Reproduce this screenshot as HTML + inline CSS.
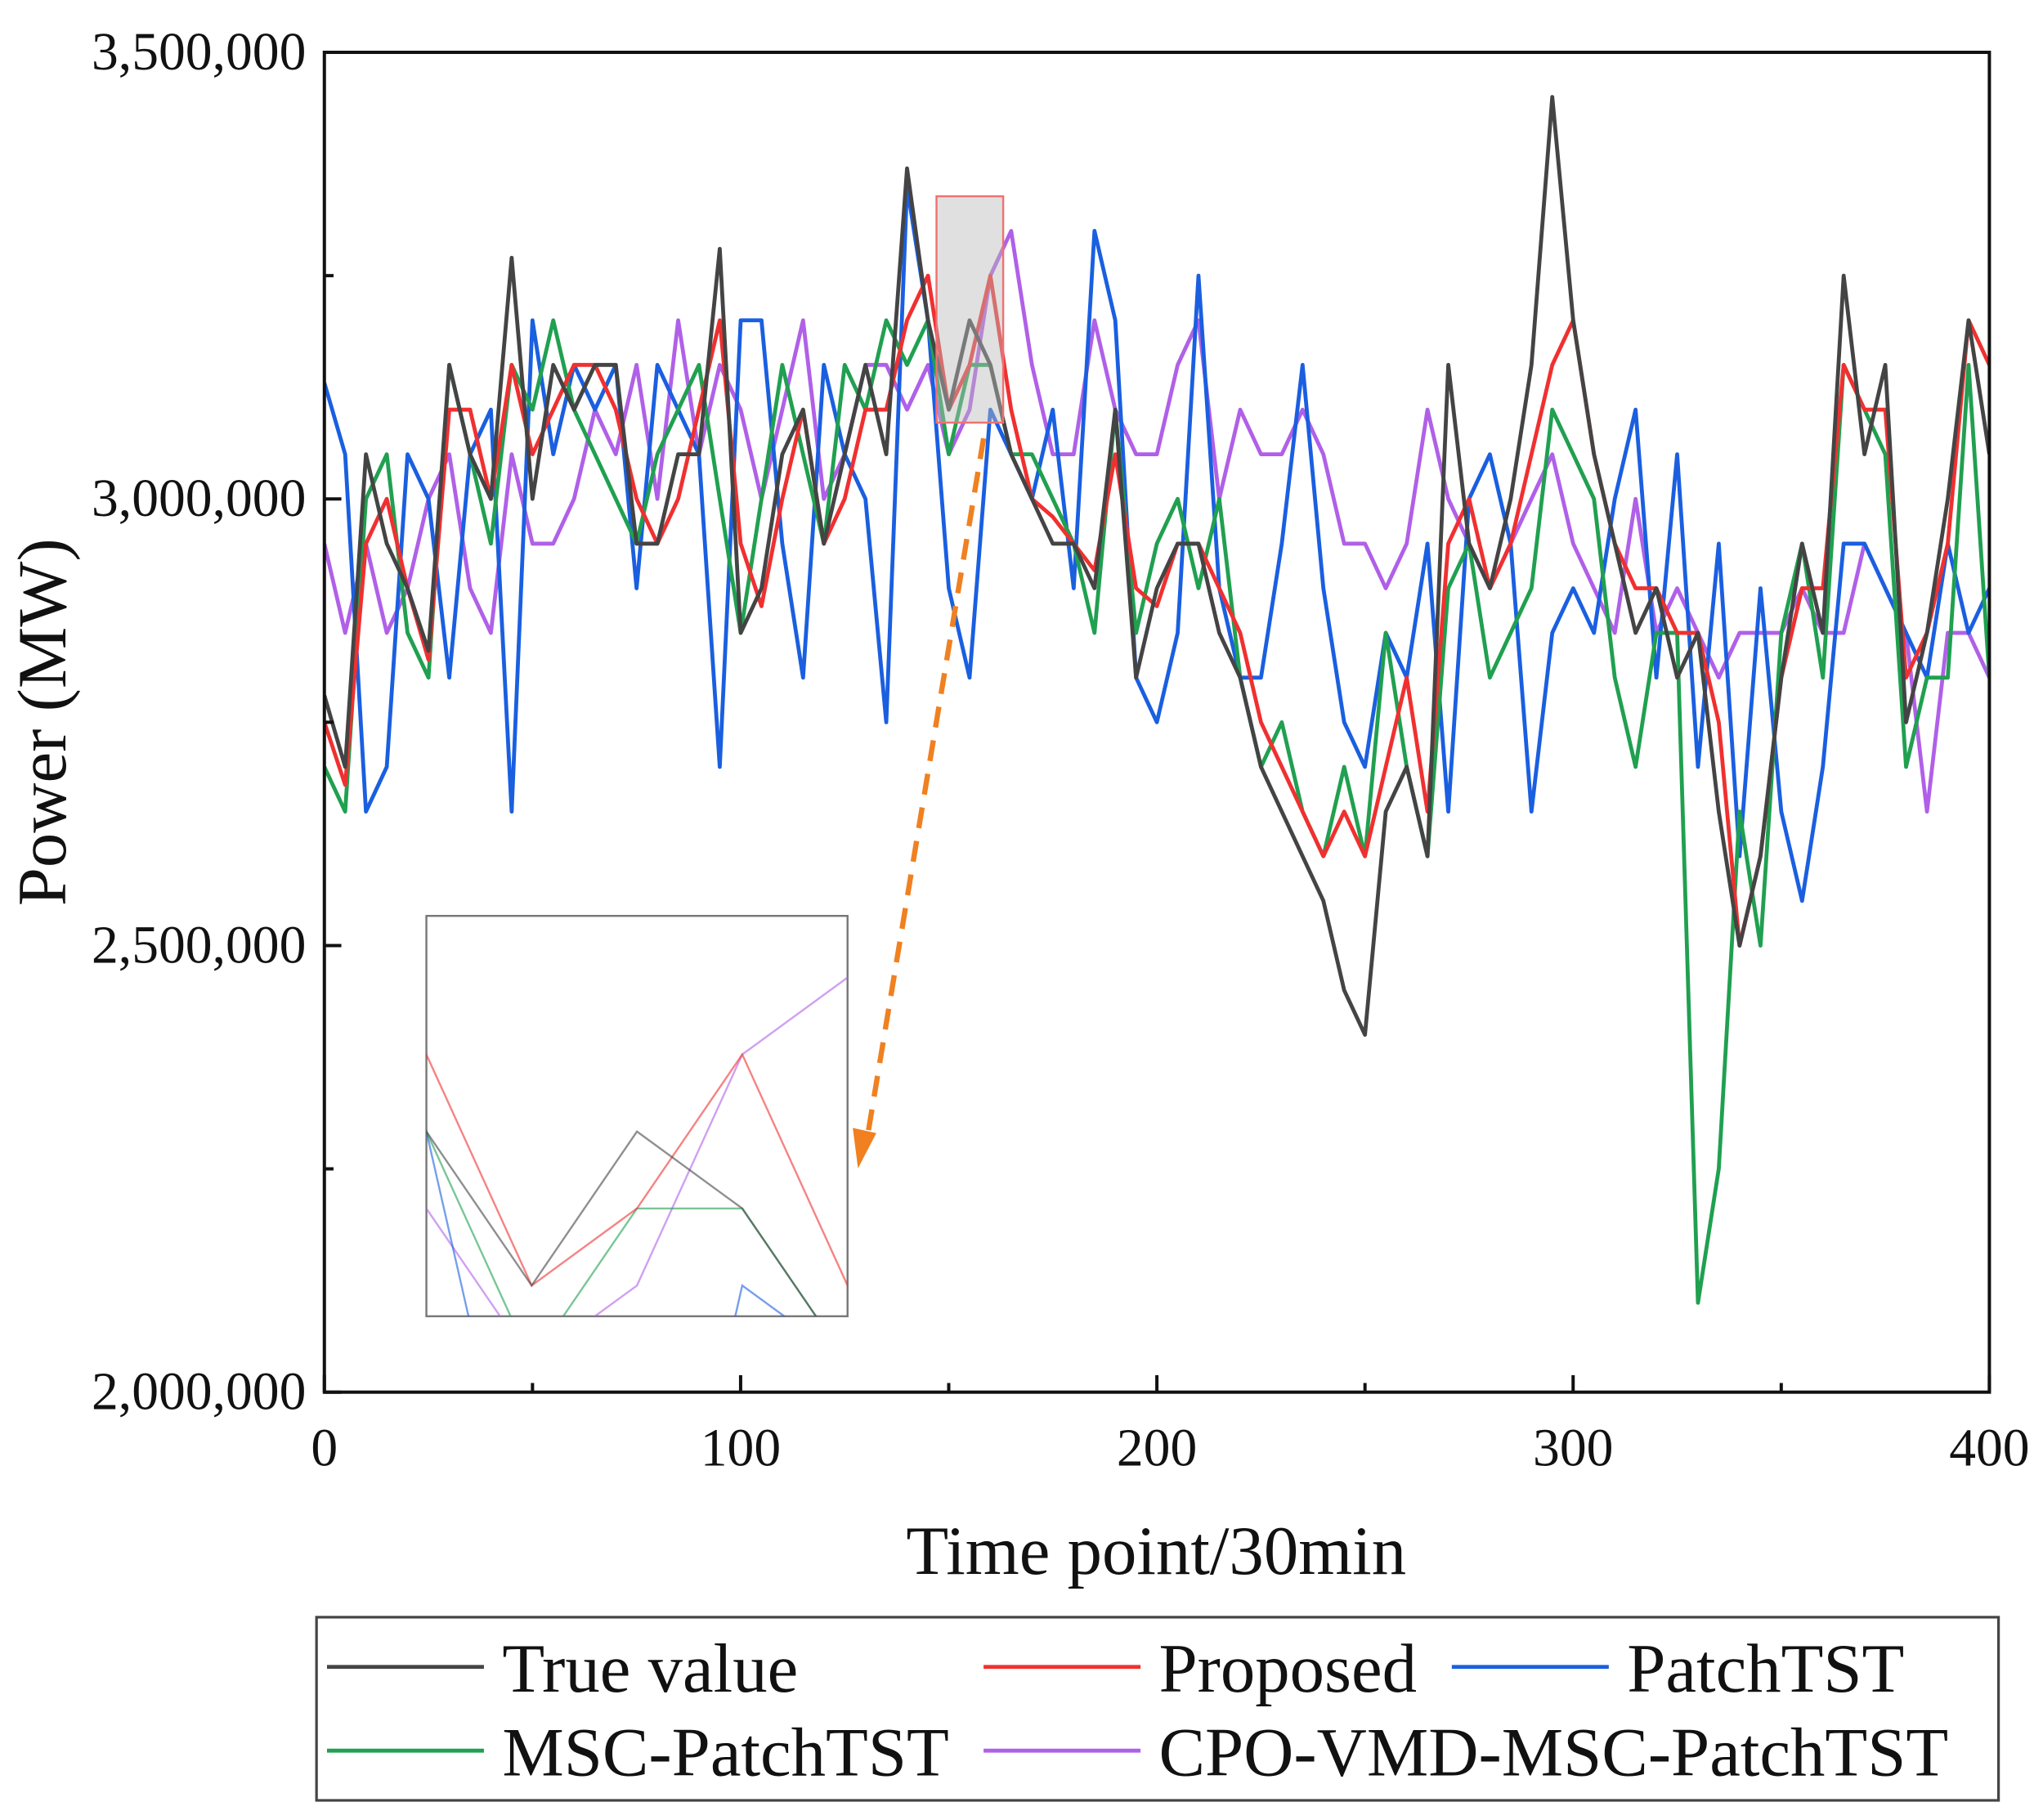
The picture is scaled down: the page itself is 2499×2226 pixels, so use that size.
<!DOCTYPE html>
<html><head><meta charset="utf-8"><style>
html,body{margin:0;padding:0;background:#fff;width:2499px;height:2226px;overflow:hidden;}
svg{display:block;}
text{font-family:"Liberation Serif",serif;fill:#111;}
</style></head><body>
<svg id="chart" width="2499" height="2226" viewBox="0 0 1562 1391" preserveAspectRatio="none" xmlns="http://www.w3.org/2000/svg">
<defs>
<clipPath id="plotClip"><rect x="248" y="40" width="1273" height="1024"/></clipPath>
<clipPath id="insetClip"><rect x="326" y="700" width="322" height="306"/></clipPath>
</defs>
<g id="series" clip-path="url(#plotClip)"></g>
<rect x="716" y="150" width="51" height="173" fill="#bbb" fill-opacity="0.45" stroke="#f07070" stroke-width="1.5"/>
<line x1="752" y1="335" x2="663" y2="870" stroke="#f08020" stroke-width="4" stroke-dasharray="16,10"/>
<polygon points="656,893 652,862 670,866" fill="#f08020"/>
<rect x="326" y="700" width="322" height="306" fill="#fff" stroke="#777" stroke-width="1.5"/>
<g id="inset" clip-path="url(#insetClip)"></g>
<rect x="248" y="40" width="1273" height="1024" fill="none" stroke="#111" stroke-width="2.5"/>
<g id="axes"></g>
<text x="884" y="1203" font-size="53" text-anchor="middle">Time point/30min</text>
<text transform="translate(50,552) rotate(-90)" font-size="53" text-anchor="middle">Power (MW)</text>
<g>
<rect x="242" y="1236" width="1286" height="140" fill="#fff" stroke="#444" stroke-width="2"/>
<g><line x1="250" y1="1274" x2="370" y2="1274" stroke="#444" stroke-width="3"/><text x="384" y="1293" font-size="53">True value</text></g>
<g><line x1="752" y1="1274" x2="872" y2="1274" stroke="#f03030" stroke-width="3"/><text x="886" y="1293" font-size="53">Proposed</text></g>
<g><line x1="1110" y1="1274" x2="1230" y2="1274" stroke="#1a5fe0" stroke-width="3"/><text x="1244" y="1293" font-size="53">PatchTST</text></g>
<g><line x1="250" y1="1338" x2="370" y2="1338" stroke="#20a050" stroke-width="3"/><text x="384" y="1357" font-size="53">MSC-PatchTST</text></g>
<g><line x1="752" y1="1338" x2="872" y2="1338" stroke="#b060e8" stroke-width="3"/><text x="886" y="1357" font-size="53">CPO-VMD-MSC-PatchTST</text></g>
</g>
</svg>
<script>
const xTicks = [0, 100, 200, 300, 400];
const yTicks = [2000000, 2500000, 3000000, 3500000];
const yTickLabels = ["2,000,000", "2,500,000", "3,000,000", "3,500,000"];
const trueValue = [2780,2700,3050,2950,2900,2830,3150,3050,3000,3270,3000,3150,3100,3150,3150,2950,2950,3050,3050,3280,2850,2900,3050,3100,2950,3050,3150,3050,3370,3200,3100,3200,3150,3050,3000,2950,2950,2900,3100,2800,2900,2950,2950,2850,2800,2700,2650,2600,2550,2450,2400,2650,2700,2600,3150,2950,2900,3000,3150,3450,3200,3050,2950,2850,2900,2800,2850,2650,2500,2600,2800,2950,2850,3250,3050,3150,2750,2850,3000,3200,3050];
const proposed = [2750,2680,2950,3000,2900,2820,3100,3100,3000,3150,3050,3100,3150,3150,3100,3000,2950,3000,3100,3200,2950,2880,3000,3100,2950,3000,3100,3100,3200,3250,3100,3150,3250,3100,3000,2980,2950,2920,3050,2900,2880,2950,2950,2900,2850,2750,2700,2650,2600,2650,2600,2700,2800,2650,2950,3000,2900,2950,3050,3150,3200,3050,2950,2900,2900,2850,2850,2750,2500,2600,2800,2900,2900,3150,3100,3100,2800,2850,2950,3200,3150];
const patchTST = [3130,3050,2650,2700,3050,3000,2800,3050,3100,2650,3200,3050,3150,3100,3150,2900,3150,3100,3050,2700,3200,3200,2950,2800,3150,3050,3000,2750,3350,3200,2900,2800,3100,3050,3000,3100,2900,3300,3200,2800,2750,2850,3250,2900,2800,2800,2950,3150,2900,2750,2700,2850,2800,2950,2650,3000,3050,2950,2650,2850,2900,2850,3000,3100,2800,3050,2700,2950,2600,2900,2650,2550,2700,2950,2950,2900,2850,2800,2950,2850,2900];
const mscPatchTST = [2700,2650,3000,3050,2850,2800,3150,3050,2950,3150,3100,3200,3100,3050,3000,2950,3050,3100,3150,3000,2850,3000,3150,3050,2950,3150,3100,3200,3150,3200,3050,3150,3150,3050,3050,3000,2950,2850,3100,2850,2950,3000,2900,3000,2800,2700,2750,2650,2600,2700,2600,2850,2700,2600,2900,2950,2800,2850,2900,3100,3050,3000,2800,2700,2850,2850,2100,2250,2650,2500,2850,2950,2800,3150,3100,3050,2700,2800,2800,3150,2800];
const cpoVmd = [2950,2850,2950,2850,2900,3000,3050,2900,2850,3050,2950,2950,3000,3100,3050,3150,3000,3200,3050,3150,3100,3000,3100,3200,3000,3050,3150,3150,3100,3150,3050,3100,3250,3300,3150,3050,3050,3200,3100,3050,3050,3150,3200,3000,3100,3050,3050,3100,3050,2950,2950,2900,2950,3100,3000,2950,2900,2950,3000,3050,2950,2900,2850,3000,2850,2900,2850,2800,2850,2850,2850,2900,2850,2850,2950,2900,2850,2650,2850,2850,2800];
const seriesList = [
  {name:'series-cpo-vmd-msc-patchtst', data:cpoVmd, color:'#b060e8'},
  {name:'series-patchtst', data:patchTST, color:'#1a5fe0'},
  {name:'series-msc-patchtst', data:mscPatchTST, color:'#20a050'},
  {name:'series-proposed', data:proposed, color:'#f03030'},
  {name:'series-true-value', data:trueValue, color:'#444'}
];
const NS='http://www.w3.org/2000/svg';
const X0=248,X1=1521,Y0=1064,Y1=40;
const xScale=t=>X0+(t-0)/400*(X1-X0);
const yScale=v=>Y0-(v-2000000)/1500000*(Y0-Y1);
const tOf=(i,n)=>i*400/(n-1);
const sg=document.getElementById('series');
seriesList.forEach(s=>{
  const p=document.createElementNS(NS,'polyline');
  
  
  p.setAttribute('points', s.data.map((v,i)=>xScale(tOf(i,s.data.length)).toFixed(1)+','+yScale(v*1000).toFixed(1)).join(' '));
  p.setAttribute('fill','none');p.setAttribute('stroke',s.color);p.setAttribute('stroke-width','3');p.setAttribute('stroke-linejoin','round');
  sg.appendChild(p);
});
const ix=t=>326+(t-145)/20*322;
const iy=v=>1006-(v-3080)/260*306;
const ig=document.getElementById('inset');
seriesList.forEach(s=>{
  const p=document.createElementNS(NS,'polyline');
  
  
  p.setAttribute('points', s.data.map((v,i)=>ix(tOf(i,s.data.length)).toFixed(1)+','+iy(v).toFixed(1)).join(' '));
  p.setAttribute('fill','none');p.setAttribute('stroke',s.color);p.setAttribute('stroke-opacity','0.6');p.setAttribute('stroke-width','1.5');
  ig.appendChild(p);
});
const ag=document.getElementById('axes');
function line(x1,y1,x2,y2,name){const l=document.createElementNS(NS,'line');
  
  
  l.setAttribute('x1',x1);l.setAttribute('y1',y1);l.setAttribute('x2',x2);l.setAttribute('y2',y2);l.setAttribute('stroke','#111');l.setAttribute('stroke-width','2.5');ag.appendChild(l);}
function txt(x,y,s,anchor,name){const t=document.createElementNS(NS,'text');
  
  
  t.setAttribute('x',x);t.setAttribute('y',y);t.setAttribute('font-size','41');t.setAttribute('text-anchor',anchor);t.textContent=s;ag.appendChild(t);}
xTicks.forEach((t,i)=>{const x=xScale(t);line(x,Y0,x,Y0-13,'x-tick');txt(x,1120,String(t),'middle','x-tick-label');
  if(i<xTicks.length-1){const m=xScale(t+50);line(m,Y0,m,Y0-7,'x-minor-tick');}});
yTicks.forEach((v,i)=>{const y=yScale(v);line(X0,y,X0+13,y,'y-tick');txt(234,y+13,yTickLabels[i],'end','y-tick-label');
  if(i<yTicks.length-1){const m=yScale(v+250000);line(X0,m,X0+7,m,'y-minor-tick');}});
</script>
</body></html>
